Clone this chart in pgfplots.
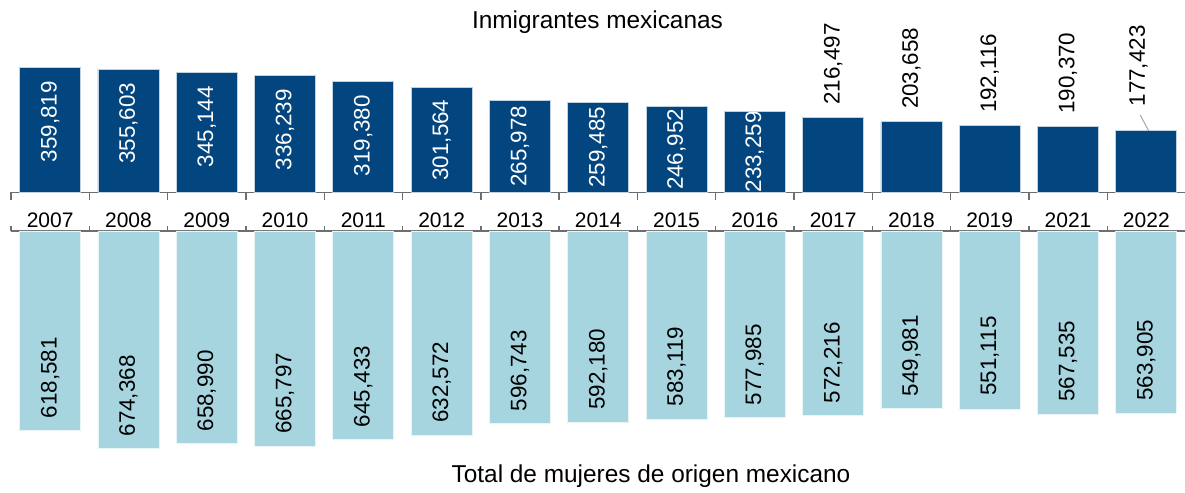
\documentclass[border=0pt]{standalone}
\usepackage{pgfplots}
\pgfplotsset{compat=1.18}
\usepackage{pgfplotstable}
\usepackage{fontspec}
\setmainfont{Liberation Sans}
\definecolor{darkb}{RGB}{3,69,126}
\definecolor{lightb}{RGB}{166,213,224}
\definecolor{axgray}{RGB}{110,110,110}

\pgfplotstableread{
x v
0 359819
1 355603
2 345144
3 336239
4 319380
5 301564
6 265978
7 259485
8 246952
9 233259
10 216497
11 203658
12 192116
13 190370
14 177423
}\topdata

\pgfplotstableread{
x v
0 618581
1 674368
2 658990
3 665797
4 645433
5 632572
6 596743
7 592180
8 583119
9 577985
10 572216
11 549981
12 551115
13 567535
14 563905
}\botdata

\tikzset{vlab/.style={font=\fontsize{11.2}{13}\selectfont}}
\pgfplotsset{
  common/.style={
    scale only axis, width=587.25pt,
    xmin=-0.5, xmax=14.5, ymin=0,
    axis y line=none,
    axis line style={axgray, line width=0.7pt},
    xtick={0,...,14}, major tick length=0pt,
    minor xtick={-0.5,0.5,...,14.5},
    tick align=outside,
    minor tick style={axgray, line width=0.7pt},
    clip=false,
    /pgf/number format/assume math mode=true,
    /pgf/number format/fixed,
    /pgf/number format/precision=0,
    /pgf/number format/1000 sep={,},
  },
}

\begin{document}
\begin{tikzpicture}
\useasboundingbox (0,0) rectangle (592.5pt,246.5pt);

% top panel
\begin{axis}[common,
  at={(5.5pt,150.35pt)}, anchor=south west,
  height=96.15pt, ymax=555000,
  axis x line*=bottom,
  minor tick length=3.85pt,
  xticklabels={2007,2008,2009,2010,2011,2012,2013,2014,2015,2016,2017,2018,2019,2021,2022},
  xticklabel style={font=\fontsize{10.5}{12}\selectfont, anchor=base, yshift=-17.5pt},
]
\addplot[ybar, bar width=30.5pt, fill=darkb, draw=white!75!darkb, line width=0.4pt]
  table[x=x, y=v]{\topdata};
\addplot[draw=none, mark=none, restrict x to domain=0:9,
  point meta=\thisrow{v}, nodes near coords,
  every node near coord/.append style={vlab, white, rotate=90, anchor=center}]
  table[x=x, y expr={max(\thisrow{v}/2, \thisrow{v}-156000)}]{\topdata};
\addplot[draw=none, mark=none, restrict x to domain=10:13,
  point meta=\thisrow{v}, nodes near coords,
  every node near coord/.append style={vlab, black, rotate=90, anchor=west, inner xsep=6.2pt}]
  table[x=x, y=v]{\topdata};
\addplot[draw=none, mark=none, restrict x to domain=13.8:14.2,
  point meta=\thisrow{v}, nodes near coords,
  every node near coord/.append style={vlab, black, rotate=90, anchor=west, inner xsep=12pt}]
  table[x expr=\thisrow{x}-0.1, y=v]{\topdata};
\draw[gray!70, line width=0.5pt] (axis cs:14.03,177423) -- (axis cs:13.92,223400);
\end{axis}

% bottom panel
\begin{axis}[common,
  at={(5.5pt,131pt)}, anchor=north west,
  height=131pt, ymax=811000, y dir=reverse,
  axis x line*=top,
  minor tick length=2.5pt,
  xticklabels={},
]
\addplot[ybar, bar width=30.5pt, fill=lightb, draw=white!75!lightb, line width=0.4pt]
  table[x=x, y=v]{\botdata};
\addplot[draw=none, mark=none,
  point meta=\thisrow{v}, nodes near coords,
  every node near coord/.append style={vlab, black, rotate=90, anchor=center}]
  table[x=x, y expr=\thisrow{v}-164000]{\botdata};
\end{axis}

\node[anchor=base, font=\fontsize{12.2}{14}\selectfont] at (298.75pt,232.35pt) {Inmigrantes mexicanas};
\node[anchor=base, font=\fontsize{12.2}{14}\selectfont] at (325.5pt,5.15pt) {Total de mujeres de origen mexicano};
\end{tikzpicture}
\end{document}
